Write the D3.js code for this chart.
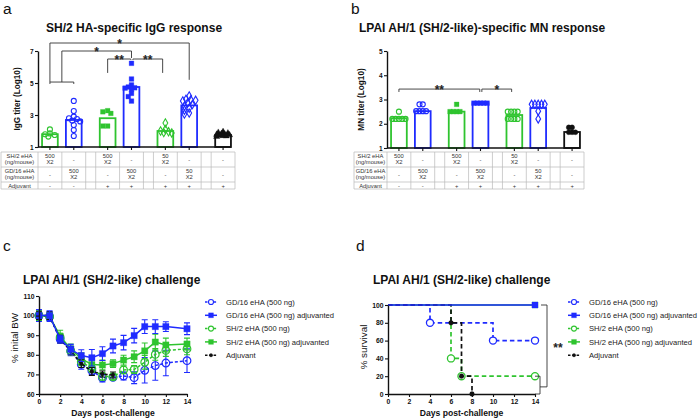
<!DOCTYPE html>
<html><head><meta charset="utf-8">
<script src="https://cdn.jsdelivr.net/npm/d3@7/dist/d3.min.js"></script>
<style>
html,body{margin:0;padding:0;background:#fff;}
svg{display:block;font-family:"Liberation Sans",Arial,Helvetica,sans-serif;}
</style></head><body>
<svg id="fig" width="699" height="418"></svg>
<script>
// ================= DATA =================
const groupIds = ["sh500", "gd500", "sh500adj", "gd500adj", "sh50adj", "gd50adj", "adj"];
const groupColorKey = ["green", "blue", "green", "blue", "green", "blue", "black"];

// Panel a: SH/2 HA-specific IgG (log10 titer)
const igMarkers = ["circle", "circle", "square", "square", "diamond", "diamond", "triangle"];
const igMeans = [1.8, 2.69, 2.8, 4.75, 2.0, 3.6, 1.75];
const igPoints = [
  [2.1, 1.85, 1.8, 1.75, 1.65],
  [3.88, 3.25, 2.9, 2.8, 2.75, 2.65, 2.6, 2.37, 2.06, 1.69],
  [3.27, 3.2, 3.1, 2.31, 2.31],
  [6.23, 5.25, 4.88, 4.75, 4.7, 4.68, 4.6, 4.35, 4.15, 3.87],
  [2.5, 2.1, 2.0, 1.95, 1.9, 1.88],
  [4.19, 3.98, 3.95, 3.92, 3.88, 3.75, 3.65, 3.55, 3.42, 3.3, 3.12, 3.06],
  [1.95, 1.9, 1.86, 1.83, 1.8, 1.78, 1.75, 1.72, 1.7, 1.68, 1.65]
];
const igTicks = [1, 3, 5, 7];
// brackets: x in group index (fractional = between groups), y/leg ends in log10 titer
const igSig = [
  {x1: 0, x2: 1, y: 5.06, l1: 4.94, l2: 4.94, label: ""},
  {x1: 0, x2: 5, y: 7.5, l1: 5.06, l2: 5.2, label: "*"},
  {x1: 0.5, x2: 3, y: 7.0, l1: 5.06, l2: 6.56, label: "*"},
  {x1: 2, x2: 2.97, y: 6.5, l1: 5.63, l2: 6.45, label: "**"},
  {x1: 3.04, x2: 3.92, y: 6.5, l1: 6.45, l2: 5.63, label: "**"}
];

// Panel b: LPAI AH/1-specific MN (log10 titer)
const mnMarkers = ["circle", "circle", "square", "square", "circle", "diamond", "circle"];
const mnMeans = [2.23, 2.52, 2.5, 2.85, 2.36, 2.65, 1.66];
const mnPoints = [
  [2.5, 2.2, 2.2, 2.2, 2.2, 2.2],
  [2.8, 2.8, 2.52, 2.52, 2.52, 2.52],
  [2.8, 2.5, 2.5, 2.5, 2.5],
  [2.85, 2.85, 2.85, 2.85, 2.85],
  [2.5, 2.5, 2.5, 2.5, 2.2, 2.2, 2.2, 2.2],
  [2.8, 2.8, 2.8, 2.8, 2.8, 2.52, 2.2],
  [1.85, 1.85, 1.65, 1.65, 1.65]
];
const mnTicks = [1, 2, 3, 4, 5];
const mnSig = [
  {x1: 0, x2: 2.97, y: 3.43, l1: 3.31, l2: 3.31, label: "**"},
  {x1: 3.04, x2: 3.92, y: 3.43, l1: 3.31, l2: 3.31, label: "*"}
];

// Immunisation table
const rowLabels = [["SH/2 eHA", "(ng/mouse)"], ["GD/16 eHA", "(ng/mouse)"], ["Adjuvant"]];
const rowSH  = [["500", "X2"], ["-"], ["500", "X2"], ["-"], ["50", "X2"], ["-"], ["-"]];
const rowGD  = [["-"], ["500", "X2"], ["-"], ["500", "X2"], ["-"], ["50", "X2"], ["-"]];
const rowAdj = [["-"], ["-"], ["+"], ["+"], ["+"], ["+"], ["+"]];

// Panels c/d series
const seriesNames = ["GD/16 eHA (500 ng)", "GD/16 eHA (500 ng) adjuvanted", "SH/2 eHA (500 ng)", "SH/2 eHA (500 ng) adjuvanted", "Adjuvant"];
const seriesColorKey = ["blue", "blue", "green", "green", "black"];
const seriesMarker = ["circle", "square", "circle", "square", "dot"];
const seriesDashed = [true, false, true, false, true];

const bwDays = [0, 1, 2, 3, 4, 5, 6, 7, 8, 9, 10, 11, 12, 14];
const bwGD      = [100, 99.5, 88, 82, 75.1, 71.9, 68.2, 68.5, 69.2, 68.3, 72.1, 74.5, 75.8, 77];
const bwGDerr   = [3, 2.5, 2, 2.5, 2.5, 2, 2, 1.5, 2, 3, 6.5, 7.5, 6.5, 6];
const bwGDadj   = [100, 100, 88, 82.8, 79.6, 78.5, 80.6, 84.5, 86.2, 89.8, 94.4, 94.4, 94.4, 93.3];
const bwGDadjErr= [3, 2.5, 2, 2.5, 3, 4.2, 3.5, 3.5, 3.7, 3.7, 3.5, 3.5, 2.5, 3];
const bwSH      = [100, 99.5, 89, 82, 76.5, 73, 69, 68.8, 72.3, 72.5, 76.2, 80.2, 82.2, 83];
const bwSHerr   = [2.5, 2, 2, 2, 2, 2, 2, 1.5, 2, 2, 3.5, 3, 3, 3];
const bwSHadj   = [100, 99.5, 89.5, 83, 78, 75, 74.8, 75.5, 77.3, 79, 82, 86.5, 85, 85.5];
const bwSHadjErr= [2.5, 2, 3, 2.5, 3, 2.5, 2.5, 2, 2.5, 3, 4, 4, 3.5, 3];
const bwAdjDays = [0, 1, 2, 3, 4, 5, 6, 7];
const bwAdj     = [100, 100, 88, 82, 75.5, 71.5, 70.2, 69.7];
const bwAdjErr  = [2, 2, 2, 2, 2, 2, 1.5, 1.5];
const bwTicksX = [0, 2, 4, 6, 8, 10, 12, 14];
const bwTicksY = [60, 70, 80, 90, 100, 110];

const survDays = [[0, 4, 10, 14], [0, 14], [0, 6, 7, 14], [0, 14], [0, 6, 7, 8]];
const survPct  = [[100, 80, 60, 60], [100, 100], [100, 40, 20, 20], [100, 100], [100, 80, 20, 0]];
const survTicksY = [0, 20, 40, 60, 80, 100];

// ================= STYLE / LAYOUT =================
const COLORS = {blue: "#1f2bff", green: "#2fc42f", black: "#111111"};
const SLOT_W = [1, 1, 0.42, 1, 1, 0.42, 1, 1, 0.42, 1];
const GROUP_SLOT = [0, 1, 3, 4, 6, 7, 9];
const svg = d3.select("#fig");

function symbolPath(type, size) {
  const t = {circle: d3.symbolCircle, square: d3.symbolSquare, diamond: d3.symbolDiamond,
             triangle: d3.symbolTriangle, dot: d3.symbolCircle}[type];
  return d3.symbol().type(t).size(size)();
}
function styleAxis(g, fs) {
  g.attr("font-size", null).attr("font-family", null);
  g.select(".domain").attr("stroke", "#111").attr("stroke-width", 1.4);
  g.selectAll(".tick line").attr("stroke", "#111").attr("stroke-width", 1.1);
  g.selectAll(".tick text").attr("font-size", fs || 6.5).attr("font-weight", "bold").attr("fill", "#111");
}
// simple beeswarm limited to a maximum half-width
function swarm(values, yScale, cx, d, step, maxHalf) {
  const placed = [], out = [];
  values.slice().sort((a, b) => b - a).forEach(v => {
    const py = yScale(v);
    let best = 0, bestScore = -1;
    for (let k = 0; k < 60; k++) {
      const dx = (k % 2 ? -1 : 1) * Math.ceil(k / 2) * step;
      if (Math.abs(dx) > maxHalf) break;
      const score = placed.length ? Math.min(...placed.map(q => Math.hypot(q.x - dx, q.y - py))) : 1e9;
      if (score >= d) { best = dx; bestScore = score; break; }
      if (score > bestScore) { bestScore = score; best = dx; }
    }
    placed.push({x: best, y: py});
    out.push({x: cx + best, y: py});
  });
  return out;
}

// ============ BAR PANELS (a, b) ============
function barPanel(opt) {
  const g = svg.append("g");
  const cum = [0];
  SLOT_W.forEach(w => cum.push(cum[cum.length - 1] + w));
  const xs = d3.scaleLinear().domain([0, cum[cum.length - 1]]).range([opt.x0, opt.x1]);
  const centers = GROUP_SLOT.map(s => xs(cum[s] + SLOT_W[s] / 2));
  const gx = i => { const i0 = Math.floor(i), t = i - i0; return centers[i0] * (1 - t) + centers[Math.min(i0 + 1, 6)] * t; };
  const y = d3.scaleLinear().domain(opt.yDomain).range(opt.yRange);
  const bw = xs(0.66) - xs(0);

  // bars
  g.selectAll("rect.bar").data(opt.means).join("rect")
    .attr("x", (d, i) => centers[i] - bw / 2).attr("width", bw)
    .attr("y", d => y(d)).attr("height", d => y(opt.yDomain[0]) - y(d))
    .attr("fill", "#fff").attr("stroke", (d, i) => COLORS[groupColorKey[i]]).attr("stroke-width", 1.8);

  // points
  opt.points.forEach((vals, i) => {
    const col = COLORS[groupColorKey[i]];
    const m = opt.markers[i];
    const filled = (m === "square" || m === "triangle" || groupColorKey[i] === "black");
    const pts = swarm(vals, y, centers[i], opt.swD, opt.swStep, bw / 2 - 1);
    g.selectAll(null).data(pts).join("path")
      .attr("d", symbolPath(m, m === "square" ? 22 : (m === "triangle" ? 18 : 20)))
      .attr("transform", p => `translate(${p.x},${p.y})`)
      .attr("fill", filled ? col : "none").attr("stroke", col).attr("stroke-width", filled ? 0.3 : 1.1);
  });

  // y axis
  const ya = g.append("g").attr("transform", `translate(${opt.x0},0)`)
    .call(d3.axisLeft(y).tickValues(opt.ticks).tickFormat(d3.format("d")).tickSize(3).tickSizeOuter(0).tickPadding(1.5));
  styleAxis(ya, 6.5);
  // x axis (line + ticks at bar centres)
  const yb = y(opt.yDomain[0]);
  g.append("line").attr("x1", opt.x0).attr("x2", opt.x1 - 4).attr("y1", yb).attr("y2", yb)
    .attr("stroke", "#111").attr("stroke-width", 1.4);
  g.selectAll("line.xt").data(centers).join("line")
    .attr("x1", d => d).attr("x2", d => d).attr("y1", yb).attr("y2", yb + 3)
    .attr("stroke", "#111").attr("stroke-width", 1.1);

  // y label
  g.append("text").attr("transform", `translate(${opt.ylabX},${(opt.yRange[0] + opt.yRange[1]) / 2}) rotate(-90)`)
    .attr("text-anchor", "middle").attr("font-size", 8.2).attr("font-weight", "bold").attr("fill", "#111").text(opt.ylab);
  // title
  g.append("text").attr("x", opt.titleX).attr("y", 32).attr("font-size", 12).attr("font-weight", "bold")
    .attr("fill", "#111").text(opt.title);
  // panel letter
  svg.append("text").attr("x", opt.letterX).attr("y", 13.5).attr("font-size", 15.5).attr("fill", "#111").text(opt.letter);

  // significance brackets
  opt.sig.forEach(s => {
    const x1 = gx(s.x1), x2 = gx(s.x2), yy = y(s.y);
    g.append("path").attr("d", `M${x1},${y(s.l1)}V${yy}H${x2}V${y(s.l2)}`)
      .attr("fill", "none").attr("stroke", "#333").attr("stroke-width", 0.9);
    if (s.label) g.append("text").attr("x", (x1 + x2) / 2).attr("y", yy + 4.5).attr("text-anchor", "middle")
      .attr("font-size", 12).attr("font-weight", "bold").attr("fill", "#222").text(s.label);
  });

  // table
  const rowsY = [152, 167, 182, 189];
  const tg = g.append("g");
  const colEdges = [opt.tableLeft].concat(cum.map(c => xs(c)));
  const lineStyle = sel => sel.attr("stroke", "#b8b8b8").attr("stroke-width", 0.7);
  rowsY.forEach(ry => tg.append("line").attr("x1", colEdges[0]).attr("x2", colEdges[colEdges.length - 1])
    .attr("y1", ry).attr("y2", ry).call(lineStyle));
  colEdges.forEach(cx => tg.append("line").attr("x1", cx).attr("x2", cx).attr("y1", rowsY[0]).attr("y2", rowsY[3]).call(lineStyle));
  const cellText = (lines, cx, top, bottom) => {
    const mid = (top + bottom) / 2;
    lines.forEach((t, k) => {
      const yy = lines.length === 1 ? mid + 2 : top + 5.8 + k * 6.2;
      tg.append("text").attr("x", cx).attr("y", yy).attr("text-anchor", "middle")
        .attr("font-size", 5.8).attr("fill", "#333").text(t);
    });
  };
  const rows = [rowSH, rowGD, rowAdj];
  rows.forEach((row, r) => {
    cellText(rowLabels[r], (colEdges[0] + colEdges[1]) / 2, rowsY[r], rowsY[r + 1]);
    row.forEach((cell, i) => {
      const s = GROUP_SLOT[i];
      cellText(cell, (xs(cum[s]) + xs(cum[s + 1])) / 2, rowsY[r], rowsY[r + 1]);
    });
  });
}

barPanel({x0: 38, x1: 235, tableLeft: 1, yDomain: [1, 7], yRange: [147, 51], ticks: igTicks,
  means: igMeans, points: igPoints, markers: igMarkers, sig: igSig, swD: 3.8, swStep: 1.6,
  ylab: "IgG titer (Log10)", ylabX: 20, title: "SH/2 HA-specific IgG response", titleX: 46, letter: "a", letterX: 3});
barPanel({x0: 387, x1: 584, tableLeft: 354, yDomain: [1, 5], yRange: [148, 51], ticks: mnTicks,
  means: mnMeans, points: mnPoints, markers: mnMarkers, sig: mnSig, swD: 3.3, swStep: 1.65,
  ylab: "MN titer (Log10)", ylabX: 364, title: "LPAI AH/1 (SH/2-like)-specific MN response", titleX: 359, letter: "b", letterX: 351});

// ============ LINE PANELS (c, d) ============
function legend(g, x, yTop) {
  seriesNames.forEach((n, i) => {
    const yy = yTop + i * 13.3, col = COLORS[seriesColorKey[i]];
    g.append("line").attr("x1", x - 6).attr("x2", x + 6).attr("y1", yy).attr("y2", yy).attr("stroke", col)
      .attr("stroke-width", 1.5).attr("stroke-dasharray", seriesDashed[i] ? "2.5,1.8" : null);
    const m = seriesMarker[i];
    g.append("path").attr("d", symbolPath(m, m === "square" ? 24 : (m === "dot" ? 9 : 20)))
      .attr("transform", `translate(${x},${yy})`)
      .attr("fill", m === "circle" ? "#fff" : col).attr("stroke", col).attr("stroke-width", m === "circle" ? 1.1 : 0.3);
    g.append("text").attr("x", x + 15).attr("y", yy + 2.7).attr("font-size", 7.6).attr("fill", "#222").text(n);
  });
}

function panelC() {
  const g = svg.append("g");
  const x = d3.scaleLinear().domain([0, 14]).range([39, 187]);
  const y = d3.scaleLinear().domain([60, 110]).range([394, 296]);
  const series = [
    {days: bwDays, m: bwGD, e: bwGDerr, i: 0},
    {days: bwDays, m: bwSH, e: bwSHerr, i: 2},
    {days: bwDays, m: bwSHadj, e: bwSHadjErr, i: 3},
    {days: bwAdjDays, m: bwAdj, e: bwAdjErr, i: 4},
    {days: bwDays, m: bwGDadj, e: bwGDadjErr, i: 1}
  ];
  series.forEach(s => {
    const col = COLORS[seriesColorKey[s.i]];
    const pts = s.days.map((d, k) => ({d, v: s.m[k], e: s.e[k]}));
    g.append("path").datum(pts).attr("d", d3.line().x(p => x(p.d)).y(p => y(p.v)))
      .attr("fill", "none").attr("stroke", col).attr("stroke-width", 1.5)
      .attr("stroke-dasharray", seriesDashed[s.i] ? "3,2" : null);
    pts.forEach(p => {
      const cx = x(p.d), t = y(p.v + p.e), b = y(p.v - p.e);
      g.append("path").attr("d", `M${cx},${t}V${b}M${cx - 3},${t}H${cx + 3}M${cx - 3},${b}H${cx + 3}`)
        .attr("stroke", col).attr("stroke-width", 1.1).attr("fill", "none");
    });
    const m = seriesMarker[s.i];
    g.selectAll(null).data(pts).join("path")
      .attr("d", symbolPath(m, m === "square" ? 40 : (m === "dot" ? 12 : 46)))
      .attr("transform", p => `translate(${x(p.d)},${y(p.v)})`)
      .attr("fill", m === "circle" ? "none" : col).attr("stroke", col).attr("stroke-width", m === "circle" ? 1.2 : 0.3);
  });
  const xa = g.append("g").attr("transform", "translate(0,394)")
    .call(d3.axisBottom(x).tickValues(bwTicksX).tickSize(3).tickSizeOuter(0).tickPadding(2));
  styleAxis(xa, 6.8);
  const ya = g.append("g").attr("transform", "translate(39,0)")
    .call(d3.axisLeft(y).tickValues(bwTicksY).tickSize(3).tickSizeOuter(0).tickPadding(1.5));
  styleAxis(ya, 6.8);
  g.append("text").attr("x", 113).attr("y", 416).attr("text-anchor", "middle").attr("font-size", 8.6)
    .attr("font-weight", "bold").attr("fill", "#111").text("Days post-challenge");
  g.append("text").attr("transform", "translate(18,338) rotate(-90)").attr("text-anchor", "middle")
    .attr("font-size", 9.8).attr("fill", "#111").text("% inital BW");
  g.append("text").attr("x", 23).attr("y", 284).attr("font-size", 12).attr("font-weight", "bold")
    .attr("fill", "#111").text("LPAI AH/1 (SH/2-like) challenge");
  svg.append("text").attr("x", 3).attr("y", 251).attr("font-size", 15.5).attr("fill", "#111").text("c");
  legend(g, 211, 302);
}

function panelD() {
  const g = svg.append("g");
  const x = d3.scaleLinear().domain([0, 14]).range([388, 535]);
  const y = d3.scaleLinear().domain([0, 100]).range([394, 305]);
  const order = [3, 2, 0, 4, 1];
  order.forEach(i => {
    const col = COLORS[seriesColorKey[i]];
    const pts = survDays[i].map((d, k) => ({d, v: survPct[i][k]}));
    g.append("path").datum(pts).attr("d", d3.line().curve(d3.curveStepAfter).x(p => x(p.d)).y(p => y(p.v)))
      .attr("fill", "none").attr("stroke", col).attr("stroke-width", 1.7)
      .attr("stroke-dasharray", seriesDashed[i] ? "4.5,3" : null);
    const m = seriesMarker[i];
    g.selectAll(null).data(pts.slice(1)).join("path")
      .attr("d", symbolPath(m, m === "square" ? 36 : (m === "dot" ? 18 : 40)))
      .attr("transform", p => `translate(${x(p.d)},${y(p.v)})`)
      .attr("fill", m === "circle" ? "#fff" : col).attr("stroke", col).attr("stroke-width", m === "circle" ? 1.3 : 0.3);
  });
  const xa = g.append("g").attr("transform", "translate(0,394)")
    .call(d3.axisBottom(x).tickValues(bwTicksX).tickSize(3).tickSizeOuter(0).tickPadding(2));
  styleAxis(xa, 6.8);
  const ya = g.append("g").attr("transform", "translate(388,0)")
    .call(d3.axisLeft(y).tickValues(survTicksY).tickSize(3).tickSizeOuter(0).tickPadding(1.5));
  styleAxis(ya, 6.8);
  // significance bracket: 100% vs the 20%-0% groups
  const bx0 = x(14) + 2, bx1 = x(14) + 5, bx2 = x(14) + 12;
  const yLowMid = y(8);
  g.append("path").attr("d", `M${bx0 - 2},${y(20)}H${bx1}V${y(0)}H${bx0 - 2}M${bx1},${yLowMid}H${bx2}V${y(100)}H${bx2 - 6}`)
    .attr("fill", "none").attr("stroke", "#333").attr("stroke-width", 0.9);
  g.append("text").attr("x", bx2 + 11).attr("y", (y(100) + yLowMid) / 2 + 6).attr("text-anchor", "middle")
    .attr("font-size", 12).attr("font-weight", "bold").attr("fill", "#222").text("**");
  g.append("text").attr("x", 461.5).attr("y", 416).attr("text-anchor", "middle").attr("font-size", 8.6)
    .attr("font-weight", "bold").attr("fill", "#111").text("Days post-challenge");
  g.append("text").attr("transform", "translate(367,347) rotate(-90)").attr("text-anchor", "middle")
    .attr("font-size", 9.8).attr("fill", "#111").text("% survival");
  g.append("text").attr("x", 373).attr("y", 284).attr("font-size", 12).attr("font-weight", "bold")
    .attr("fill", "#111").text("LPAI AH/1 (SH/2-like) challenge");
  svg.append("text").attr("x", 356).attr("y", 251).attr("font-size", 15.5).attr("fill", "#111").text("d");
  legend(g, 574, 302);
}
panelC();
panelD();
</script>
</body></html>
